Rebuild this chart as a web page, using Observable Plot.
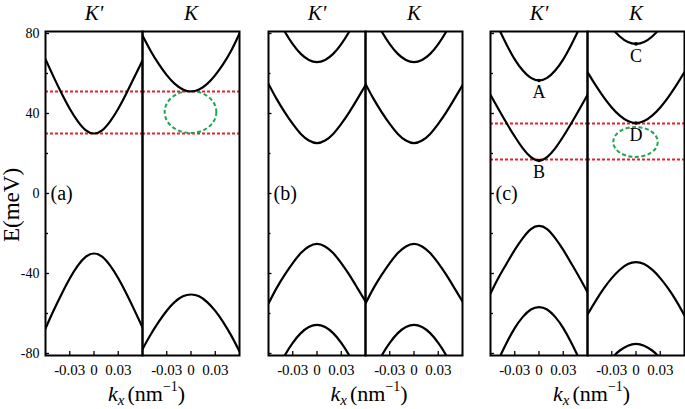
<!DOCTYPE html>
<html>
<head>
<meta charset="utf-8">
<script src="https://cdn.jsdelivr.net/npm/d3@7"></script>
<script src="https://cdn.jsdelivr.net/npm/@observablehq/plot@0.6"></script>
<style>
  body { margin: 0; background: #fff; }
  #chart { position: relative; width: 685px; height: 409px; background: #fff; overflow: hidden; }
  #chart svg { position: absolute; top: 0; font-family: "Liberation Serif", "DejaVu Serif", serif !important; }
  #chart svg text { font-family: "Liberation Serif", "DejaVu Serif", serif; }
  #chart g[aria-label="fx-axis tick label"] text { font-style: italic; }
</style>
</head>
<body>
<div id="chart"></div>
<script>
// ---------- data ----------
const halves = ["K'", "K"];
const kGrid = [-0.06, -0.05, -0.04, -0.03, -0.02, -0.01, 0, 0.01, 0.02, 0.03, 0.04, 0.05, 0.06];
const xTicks = [-0.03, 0, 0.03];
const yMajor = [-80, -40, 0, 40, 80];
const yMinor = [-60, -20, 20, 60];

// panel (a)
const aKpCond = [67.1, 58.3, 50.0, 42.4, 36.1, 31.6, 30.0, 31.6, 36.1, 42.4, 50.0, 58.3, 66.5];
const aKpVal  = [-67.5, -58.5, -50.2, -42.5, -36.1, -31.6, -30.0, -31.6, -36.1, -42.4, -50.0, -58.3, -67.0];
const aKCond  = [79.0, 71.4, 64.8, 59.2, 54.8, 52.0, 51.0, 52.0, 54.8, 59.2, 64.8, 71.6, 80.0];
const aKVal   = [-77.8, -70.6, -64.2, -58.6, -54.2, -51.4, -50.5, -51.4, -54.3, -58.7, -64.4, -71.2, -79.0];
const aRed = [51, 30];
const aEllipse = [{half: "K", k: 0, E: 40.5, rk: 0.032, rE: 10.5}];

// panel (b)
const bCond1 = [54.8, 47.3, 40.7, 34.8, 29.8, 26.5, 25.2, 26.5, 29.8, 34.8, 40.7, 47.3, 54.2];
const bCond2 = [96.8, 88.5, 81.0, 74.7, 69.8, 66.8, 65.7, 66.8, 69.8, 74.7, 81.0, 88.5, 96.8];
const bVal1  = [-55.0, -47.3, -40.7, -34.8, -29.8, -26.5, -25.2, -26.5, -29.8, -34.8, -40.7, -47.3, -54.0];
const bVal2  = [-96.8, -88.5, -81.0, -74.7, -69.8, -66.8, -65.7, -66.8, -69.8, -74.7, -81.0, -88.5, -96.8];

// panel (c)
const cKpA    = [91.9, 82.7, 74.4, 67.1, 61.5, 57.8, 56.5, 57.8, 61.5, 67.1, 74.4, 82.7, 91.9];
const cKpB    = [49.3, 42.1, 35.1, 28.5, 22.6, 18.2, 16.5, 18.2, 22.6, 28.5, 35.1, 42.1, 49.3];
const cKpVal1 = [-50.0, -42.0, -35.0, -28.2, -22.3, -17.8, -16.2, -17.8, -22.3, -28.2, -35.0, -42.0, -49.3];
const cKpVal2 = [-92.0, -83.0, -74.6, -67.3, -61.7, -58.0, -56.8, -58.0, -61.7, -67.3, -74.6, -83.0, -92.0];
const cKC     = [103.6, 95.5, 88.8, 82.9, 78.5, 75.7, 74.8, 75.7, 78.5, 82.9, 88.8, 95.5, 103.6];
const cKD     = [60.7, 54.2, 48.2, 43.0, 38.9, 36.2, 35.2, 36.2, 38.9, 43.0, 48.2, 54.2, 60.7];
const cKVal1  = [-60.5, -53.8, -47.6, -42.3, -38.1, -35.3, -34.3, -35.3, -38.1, -42.3, -47.6, -53.8, -61.0];
const cKVal2  = [-104.0, -96.0, -89.2, -82.6, -78.5, -76.1, -75.2, -76.1, -78.5, -82.6, -89.2, -96.0, -104.0];
const cRed = [35, 17];
const cEllipse = [{half: "K", k: 0, E: 25.5, rk: 0.0275, rE: 7.5}];
const cPoints = [
  {half: "K'", k: 0, E: 56.5, label: "A"},
  {half: "K'", k: 0, E: 16.5, label: "B"},
  {half: "K",  k: 0, E: 74.8, label: "C"},
  {half: "K",  k: 0, E: 35.2, label: "D"}
];

const panels = [
  {id: "(a)", curves: [["K'", aKpCond], ["K'", aKpVal], ["K", aKCond], ["K", aKVal]], red: aRed, ellipses: aEllipse, points: []},
  {id: "(b)", curves: [["K'", bCond1], ["K'", bCond2], ["K'", bVal1], ["K'", bVal2], ["K", bCond1], ["K", bCond2], ["K", bVal1], ["K", bVal2]], red: [], ellipses: [], points: []},
  {id: "(c)", curves: [["K'", cKpA], ["K'", cKpB], ["K'", cKpVal1], ["K'", cKpVal2], ["K", cKC], ["K", cKD], ["K", cKVal1], ["K", cKVal2]], red: cRed, ellipses: cEllipse, points: cPoints}
];

// ---------- layout ----------
const layout = [
  {left: 0,   marginLeft: 45, width: 241, marginRight: 2, yAxis: true},
  {left: 257, marginLeft: 10, width: 207, marginRight: 2, yAxis: false},
  {left: 480, marginLeft: 10, width: 205, marginRight: 1, yAxis: false}
];
const H = 409, MT = 31, MB = 54;
const FONT = "Liberation Serif, DejaVu Serif, serif";

function ellipseMark(data) {
  return Plot.dot(data, {
    x: "k", y: "E", fx: "half",
    render(index, scales, values) {
      const g = d3.create("svg:g");
      for (const i of index) {
        const d = data[i];
        const rx = Math.abs(scales.x(d.rk) - scales.x(0));
        const ry = Math.abs(scales.y(d.rE) - scales.y(0));
        g.append("ellipse")
          .attr("cx", values.x[i]).attr("cy", values.y[i])
          .attr("rx", rx).attr("ry", ry)
          .attr("fill", "none").attr("stroke", "#22a552")
          .attr("stroke-width", 2).attr("stroke-dasharray", "4,2.5");
      }
      return g.node();
    }
  });
}

const chart = document.getElementById("chart");

panels.forEach((p, pi) => {
  const L = layout[pi];
  const facetW = (L.width - L.marginLeft - L.marginRight) / 2;
  const rows = [];
  p.curves.forEach(([half, vals], ci) => {
    vals.forEach((E, j) => rows.push({half, band: ci, k: kGrid[j], E}));
  });
  const yTickRows = [
    ...yMajor.map(E => ({half: "K'", E, len: 4})),
    ...yMinor.map(E => ({half: "K'", E, len: 3}))
  ];
  const marks = [
    Plot.axisFx({anchor: "top", tickSize: 0, tickPadding: 8, dy: -4, fontSize: 21, fontStyle: "italic", label: null}),
    Plot.axisX({anchor: "bottom", ticks: xTicks, tickSize: 0, tickPadding: 9, fontSize: 15,
      tickFormat: d => d === 0 ? "0" : (d < 0 ? "-" : "") + Math.abs(d).toFixed(2), label: null}),
    Plot.tickX(xTicks, {x: d => d, insetTop: (H - MT - MB) - 4, stroke: "black", strokeWidth: 1.3}),
    Plot.tickY(yTickRows.filter(d => d.len === 4), {y: "E", fx: "half", insetRight: facetW - 4, stroke: "black", strokeWidth: 1.3}),
    Plot.tickY(yTickRows.filter(d => d.len === 3), {y: "E", fx: "half", insetRight: facetW - 3, stroke: "black", strokeWidth: 1.3}),
    Plot.ruleY(p.red, {y: d => d, stroke: "#e8202a", strokeWidth: 2, strokeDasharray: "3,2"}),
    ellipseMark(p.ellipses),
    Plot.line(rows, {x: "k", y: "E", z: "band", fx: "half", curve: "natural", stroke: "black", strokeWidth: 2.2, clip: true}),
    Plot.dot(p.points, {x: "k", y: "E", fx: "half", r: 1.8, fill: "black"}),
    Plot.text(p.points, {x: "k", y: "E", fx: "half", text: "label", dy: 12, fontSize: 18}),
    Plot.frame({stroke: "black", strokeWidth: 2}),
    Plot.text([{half: "K'", E: 0, label: p.id}], {y: "E", fx: "half", text: "label", frameAnchor: "left", dx: 5, textAnchor: "start", fontSize: 20})
  ];
  if (L.yAxis) {
    marks.unshift(Plot.axisY({anchor: "left", ticks: yMajor, tickSize: 0, tickPadding: 6, fontSize: 14,
      tickFormat: d => (d < 0 ? "-" : "") + Math.abs(d), label: null}));
  }
  const svg = Plot.plot({
    width: L.width, height: H,
    marginTop: MT, marginBottom: MB, marginLeft: L.marginLeft, marginRight: L.marginRight,
    style: {fontFamily: FONT, background: "transparent", color: "black"},
    x: {domain: [-0.06, 0.06]},
    y: {domain: [-81, 81], axis: L.yAxis ? undefined : null},
    fx: {domain: halves, padding: 0},
    marks
  });
  svg.style.left = L.left + "px";
  const s = d3.select(svg);
  // x-axis title
  const cx = L.marginLeft + facetW - 34;
  const t = s.append("text").attr("x", cx).attr("y", 401).attr("text-anchor", "start")
    .attr("font-family", FONT).attr("font-size", 22).attr("fill", "black");
  t.append("tspan").attr("font-style", "italic").text("k");
  t.append("tspan").attr("font-style", "italic").attr("font-size", 15).attr("dy", 4).text("x");
  t.append("tspan").attr("dy", -4).attr("dx", 3).text("(nm");
  t.append("tspan").attr("font-size", 14).attr("dy", -10).text("\u22121");
  t.append("tspan").attr("dy", 10).text(")");
  if (L.yAxis) {
    s.append("text").attr("transform", "translate(11,205) rotate(-90)")
      .attr("text-anchor", "middle").attr("dy", "0.35em")
      .attr("font-family", FONT).attr("font-size", 23).attr("fill", "black")
      .text("E(meV)");
  }
  chart.appendChild(svg);
});
</script>
</body>
</html>
